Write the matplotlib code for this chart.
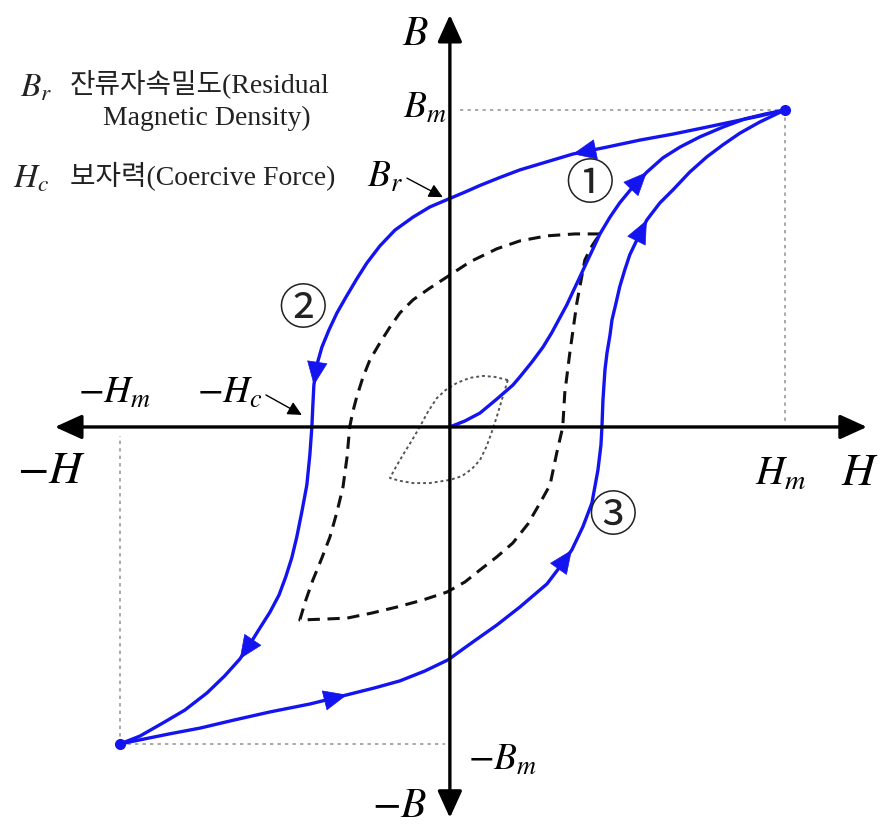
import matplotlib.pyplot as plt

plt.rcParams['mathtext.fontset'] = 'stix'
plt.rcParams['font.family'] = ['Liberation Serif', 'Noto Sans CJK KR']

BLUE = '#1414f0'
GRAY = '#9a9a9a'

# H and B scaled so that Hm = Bm = 100
# initial magnetisation curve (origin -> Hm)
init_h = [0, 4.5, 9.0, 14.0, 18.8, 20.9, 24.5, 27.8, 30.4, 32.8, 34.9, 36.7, 38.8, 40.9,
          43.0, 44.8, 47.8, 50.7, 54.6, 58.8, 63.6, 68.7, 74.6, 81.5, 88.1, 94.0, 100]
init_b = [0, 1.9, 4.4, 8.8, 13.2, 15.8, 20.5, 25.2, 29.7, 34.4, 38.5, 42.6, 47.3, 52.1,
          56.8, 60.9, 66.2, 70.7, 75.7, 80.4, 84.9, 88.3, 91.5, 94.6, 97.2, 98.7, 100]

# descending branch (Hm -> -Hm)
down_h = [100, 92.5, 86.6, 76.7, 66.6, 56.7, 46.9, 36.7, 26.9, 20.9, 14.9, 9.0, 4.5, 0,
          -6.0, -11.0, -16.4, -20.9, -24.8, -27.8, -31.0, -33.7, -36.1, -38.2, -39.7,
          -40.6, -40.9, -41.2, -41.8, -42.7, -44.2, -45.7, -47.2, -49.0, -51.0, -53.7,
          -56.7, -59.7, -62.7, -67.2, -72.5, -79.1, -85.7, -92.5, -98.5]
down_b = [100, 98.1, 96.8, 94.6, 92.4, 90.5, 88.3, 86.1, 83.0, 81.1, 78.7, 76.2, 74.1, 72.1,
          69.4, 66.2, 62.1, 57.1, 51.7, 46.7, 41.0, 36.0, 30.6, 25.2, 19.6,
          13.2, 6.9, 0, -8.8, -18.3, -26.8, -34.7, -41.3, -47.3, -53.0, -58.4,
          -63.4, -68.5, -73.2, -78.5, -83.9, -89.3, -93.4, -97.5, -100]

# ascending branch (-Hm -> Hm)
up_h = [-98.5, -92.5, -83.6, -74.6, -64.2, -53.7, -41.8, -30.7, -22.4, -14.9, -7.5, -0.6,
        6.9, 14.0, 20.9, 29.0, 32.8, 36.4, 39.7, 42.4, 44.2, 45.1, 45.4, 45.7, 46.3, 46.9,
        47.8, 48.4, 49.6, 50.7, 52.2, 53.7, 56.1, 58.8, 62.7, 66.6, 71.6, 76.7, 81.5, 86.6,
        92.5, 100]
up_b = [-100, -98.7, -96.8, -95.0, -92.4, -89.9, -87.4, -84.5, -82.3, -80.1, -77.0, -73.5,
        -67.8, -62.5, -56.8, -49.5, -44.2, -38.8, -31.5, -24.0, -13.6, -5.7, 0, 8.5, 18.0, 23.3,
        29.0, 33.8, 39.1, 44.2, 49.5, 54.3, 59.6, 65.3, 70.7, 74.8, 80.4, 85.2, 89.0, 92.7,
        96.2, 100]

# minor loop (dashed)
minor_h = [44.8, 37.3, 29.0, 20.9, 14.0, 6.0, -0.9, -6.0, -11.0, -14.9, -17.9, -20.9, -23.9,
           -26.0, -27.8, -29.0, -29.9, -30.7, -31.9, -33.7, -35.8, -38.2, -40.9, -43.0, -44.8,
           -37.3, -30.7, -23.3, -15.8, -8.1, -0.9, 4.5, 9.0, 14.0, 18.8, 23.3, 26.9, 29.9,
           31.9, 33.7, 34.3, 35.8, 37.9, 40.3, 42.4, 44.8]
minor_b = [60.9, 60.9, 60.3, 58.7, 56.2, 52.1, 47.3, 43.8, 40.1, 36.0, 31.5, 26.5, 21.1,
           15.5, 9.5, 4.7, 0, -9.5, -18.9, -26.8, -34.7, -41.3, -48.3, -54.6, -60.9,
           -60.6, -60.3, -58.7, -56.8, -54.6, -52.1, -48.9, -45.1, -41.0, -36.6, -30.6, -24.0, -18.3,
           -8.2, 0, 10.7, 23.3, 39.1, 52.7, 57.1, 60.9]

# small loop (dotted)
small_h = [17.3, 13.4, 9.9, 6.0, 2.1, -1.2, -3.9, -6.6, -9.0, -11.6, -14.0, -16.1, -17.9,
           -14.9, -11.0, -6.0, 0, 3.6, 6.6, 9.0, 11.0, 12.5, 14.0, 15.5, 17.3]
small_b = [14.8, 15.8, 16.1, 15.5, 13.9, 11.7, 9.1, 4.7, 0, -4.7, -8.8, -12.6, -16.1,
           -17.0, -17.7, -17.7, -16.7, -15.5, -13.2, -10.4, -6.0, -1.6, 3.2, 8.5, 14.8]

fig = plt.figure(figsize=(8.85, 8.27), dpi=100)
ax = fig.add_axes([0, 0, 1, 1])
ax.set_xlim(-134.3, 129.9)
ax.set_ylim(-126.2, 134.7)
ax.axis('off')

# guide lines to the saturation points
guide = dict(ls=(0, (2, 2.5)), color=GRAY, lw=1.2)
ax.plot([3, init_h[-1]], [init_b[-1], init_b[-1]], **guide)
ax.plot([init_h[-1], init_h[-1]], [init_b[-1], 2], **guide)
ax.plot([up_h[0], -1.5], [up_b[0], up_b[0]], **guide)
ax.plot([up_h[0], up_h[0]], [up_b[0], -3], **guide)

# H and B axes
axis_arrow = dict(arrowstyle='<|-|>,head_length=0.55,head_width=0.25', color='black',
                  lw=2.4, mutation_scale=30, shrinkA=0, shrinkB=0)
ax.annotate('', xy=(124.5, 0), xytext=(-117.9, 0), arrowprops=axis_arrow)
ax.annotate('', xy=(0, 130), xytext=(0, -123.3), arrowprops=axis_arrow)

ax.plot(small_h, small_b, ls=(0, (1.5, 1.5)), color='#555555', lw=1.4)
ax.plot(minor_h, minor_b, ls=(0, (4, 2.5)), color='#111111', lw=2.2)

for h, b in [(init_h, init_b), (down_h, down_b), (up_h, up_b)]:
    ax.plot(h, b, color=BLUE, lw=2.4, solid_capstyle='round', solid_joinstyle='round')


def direction(h, b, i):
    ax.annotate('', xy=(h[i], b[i]), xytext=(h[i - 1], b[i - 1]),
                arrowprops=dict(arrowstyle='-|>,head_length=0.8,head_width=0.35',
                                color=BLUE, lw=0.5, mutation_scale=20,
                                shrinkA=0, shrinkB=0))


direction(init_h, init_b, 19)
direction(down_h, down_b, 7)
direction(down_h, down_b, 25)
direction(down_h, down_b, 38)
direction(up_h, up_b, 7)
direction(up_h, up_b, 17)
direction(up_h, up_b, 33)

ax.plot([init_h[-1], up_h[0]], [init_b[-1], up_b[0]], 'o', color=BLUE, ms=7, ls='none')

# axis labels
ax.text(-14.3, 120.5, '$B$', fontsize=30, va='baseline')
ax.text(-23.3, -123.0, '$-B$', fontsize=30, va='baseline')
ax.text(116.7, -18.3, '$H$', fontsize=33, va='baseline')
ax.text(-129.3, -17.7, '$-H$', fontsize=33, va='baseline')
ax.text(91.0, -18.3, '$H_m$', fontsize=29, va='baseline')
ax.text(-111.0, 7.6, '$-H_m$', fontsize=27, va='baseline')
ax.text(-75.5, 7.6, '$-H_c$', fontsize=27, va='baseline')
ax.text(-14.0, 97.5, '$B_m$', fontsize=27, va='baseline')
ax.text(-24.8, 75.7, '$B_r$', fontsize=27, va='baseline')
ax.text(5.4, -108.2, '$-B_m$', fontsize=27, va='baseline')

pointer = dict(arrowstyle='-|>,head_length=0.6,head_width=0.3', color='black', lw=1.0,
               mutation_scale=14, shrinkA=0, shrinkB=0)
ax.annotate('', xy=(-2.1, 72.5), xytext=(-12.8, 78.5), arrowprops=pointer)
ax.annotate('', xy=(-44.2, 3.8), xytext=(-54.9, 10.1), arrowprops=pointer)

# branch numbers
circled = ['①', '②', '③']
circled_pos = [(41.8, 76.3), (-43.9, 36.9), (48.7, -28.4)]
for s, (x, y) in zip(circled, circled_pos):
    ax.text(x, y, s, fontsize=35, ha='center', va='center', family=['Noto Sans CJK KR'],
            color='#222222')

# legend text
ax.text(-128.4, 104.1, '$B_r$', fontsize=24, va='baseline', color='#222222')
ax.text(-113.4, 105.4, '잔류자속밀도(Residual', fontsize=20, va='baseline', color='#222222')
ax.text(-72.5, 95.3, 'Magnetic Density)', fontsize=20, ha='center', va='baseline',
        color='#222222')
ax.text(-130.4, 75.7, '$H_c$', fontsize=24, va='baseline', color='#222222')
ax.text(-113.4, 76.3, '보자력(Coercive Force)', fontsize=20, va='baseline', color='#222222')

fig.savefig('out.png', dpi=100)
